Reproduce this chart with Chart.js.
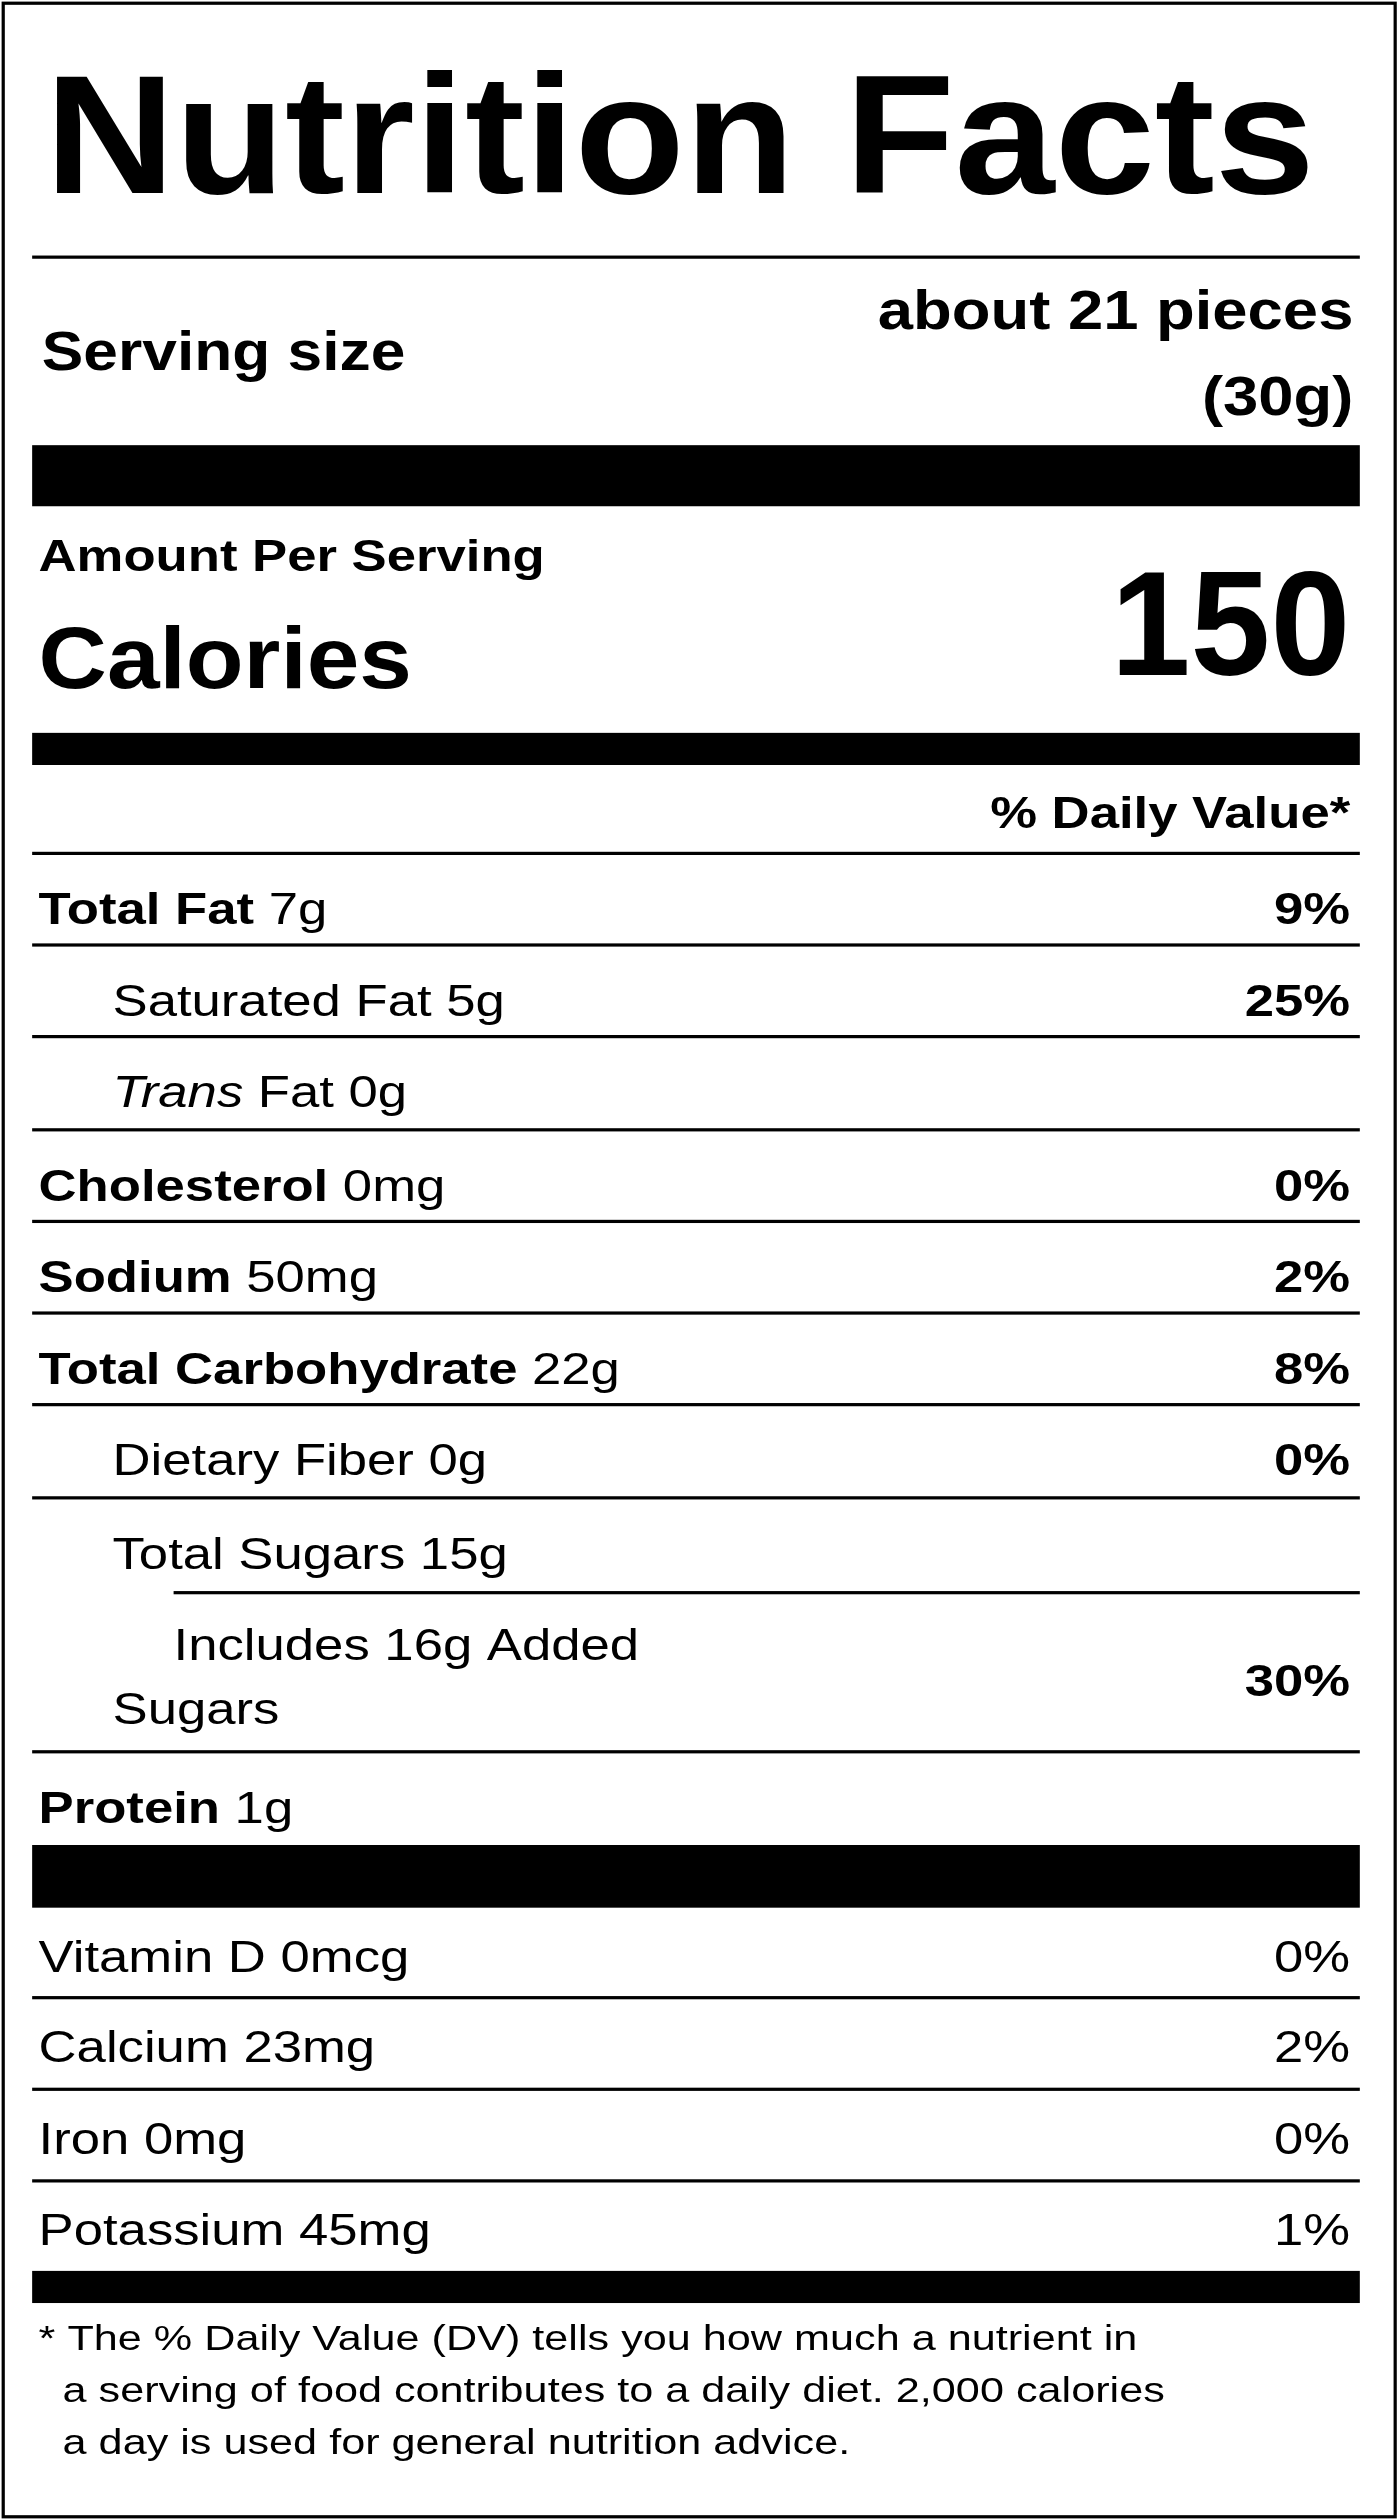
<!DOCTYPE html>
<html>
<head>
<meta charset="utf-8">
<script src="https://cdn.jsdelivr.net/npm/chart.js@4.4.1/dist/chart.umd.min.js"></script>
<style>
  html, body { margin: 0; padding: 0; background: #fff; }
  #wrap { width: 1400px; height: 2520px; position: relative; }
</style>
</head>
<body>
<div id="wrap"><canvas id="label"></canvas></div>
<script>
const servingSize = ['about 21 pieces', '(30g)'];
const calories = '150';

const nutrientNames = ['Total Fat', 'Saturated Fat', 'Trans Fat', 'Cholesterol', 'Sodium',
  'Total Carbohydrate', 'Dietary Fiber', 'Total Sugars', 'Includes 16g Added Sugars', 'Protein'];
const nutrientAmounts = ['7g', '5g', '0g', '0mg', '50mg', '22g', '0g', '15g', '', '1g'];
const nutrientDV = ['9%', '25%', '', '0%', '2%', '8%', '0%', '', '30%', ''];
const nutrientLevel = [0, 1, 1, 0, 0, 0, 1, 1, 2, 0];

const vitaminNames = ['Vitamin D', 'Calcium', 'Iron', 'Potassium'];
const vitaminAmounts = ['0mcg', '23mg', '0mg', '45mg'];
const vitaminDV = ['0%', '2%', '0%', '1%'];

const footnote = [
  '* The % Daily Value (DV) tells you how much a nutrient in',
  '  a serving of food contributes to a daily diet. 2,000 calories',
  '  a day is used for general nutrition advice.'
];

const FONT = '"Liberation Sans", Arial, sans-serif';

const labelPlugin = {
  id: 'nutritionLabel',
  afterDraw(chart) {
    const ctx = chart.ctx;
    const sx = chart.width / 871, sy = chart.height / 1568;
    ctx.save();
    ctx.scale(sx, sy);
    ctx.fillStyle = '#000';
    ctx.strokeStyle = '#000';
    ctx.textBaseline = 'alphabetic';
    const L = 20, R = 846;

    const rule = (y, w, x0) => { ctx.fillRect(x0 || L, y - w / 2, R - (x0 || L), w); };
    // text with horizontal stretch k to match the wide rendering of the original
    const text = (t, x, y, size, weight, align, style, k) => {
      k = k || 1.17;
      ctx.font = `${style || 'normal'} ${weight || 'normal'} ${size}px ${FONT}`;
      ctx.textAlign = align || 'left';
      ctx.save();
      ctx.translate(x, y);
      ctx.scale(k, 1);
      ctx.fillText(t, 0, 0);
      ctx.restore();
      return ctx.measureText(t).width * k;
    };

    // border
    ctx.lineWidth = 2;
    ctx.strokeRect(2, 2, 866, 1564);

    // title, fitted to width
    ctx.font = `bold 100px ${FONT}`;
    const tw = ctx.measureText('Nutrition Facts').width;
    ctx.save();
    ctx.translate(28, 120);
    ctx.scale(790 / tw, 1.05);
    ctx.textAlign = 'left';
    ctx.fillText('Nutrition Facts', 0, 0);
    ctx.restore();

    rule(160, 2);
    text('Serving size', 26, 230, 34, 'bold', 'left', null, 1.14);
    text(servingSize[0], 842, 205, 34, 'bold', 'right', null, 1.16);
    text(servingSize[1], 842, 258, 34, 'bold', 'right', null, 1.16);
    ctx.fillRect(L, 277, R - L, 38);

    text('Amount Per Serving', 24, 355, 28, 'bold', 'left', null, 1.17);
    text('Calories', 24, 428, 54, 'bold', 'left', null, 1.09);
    text(calories, 840, 420, 92, 'bold', 'right', null, 0.97);
    ctx.fillRect(L, 456, R - L, 20);

    text('% Daily Value*', 840, 515, 28, 'bold', 'right');
    rule(531, 2);

    const tops = [531, 588, 645, 703, 760, 817, 874, 932, 991, 1090, 1148];
    const indents = [24, 70, 108];
    nutrientNames.forEach((name, i) => {
      const top = tops[i], bottom = tops[i + 1];
      const x = indents[nutrientLevel[i]];
      const base = top + 44;
      if (i === 8) {
        text('Includes 16g Added', x, top + 42, 28);
        text('Sugars', 70, top + 82, 28);
        text(nutrientDV[i], 840, top + 64, 28, 'bold', 'right');
      } else {
        let cx = x;
        if (name === 'Trans Fat') {
          cx += text('Trans', cx, base, 28, 'normal', 'left', 'italic');
          cx += text(' Fat ' + nutrientAmounts[i], cx, base, 28);
        } else {
          const w = nutrientLevel[i] === 0 ? 'bold' : 'normal';
          cx += text(name + ' ', cx, base, 28, w);
          text(nutrientAmounts[i], cx, base, 28);
        }
        if (nutrientDV[i]) text(nutrientDV[i], 840, base, 28, 'bold', 'right');
      }
      if (i < nutrientNames.length - 1) rule(bottom, 2, i === 7 ? 108 : L);
    });
    ctx.fillRect(L, 1148, R - L, 39);

    const vtops = [1187, 1243, 1300, 1357];
    vitaminNames.forEach((name, i) => {
      const base = vtops[i] + 40;
      text(name + ' ' + vitaminAmounts[i], 24, base, 28);
      text(vitaminDV[i], 840, base, 28, 'normal', 'right');
      if (i > 0) rule(vtops[i], 2);
    });
    ctx.fillRect(L, 1413, R - L, 20);

    footnote.forEach((line, i) => {
      text(line, 24, 1462 + i * 32.5, 21.5, 'normal', 'left', null, 1.25);
    });
    ctx.restore();
  }
};

new Chart(document.getElementById('label'), {
  type: 'bar',
  data: { labels: [], datasets: [] },
  options: {
    responsive: true,
    maintainAspectRatio: false,
    animation: false,
    events: [],
    plugins: { legend: { display: false }, tooltip: { enabled: false } },
    scales: { x: { display: false }, y: { display: false } }
  },
  plugins: [labelPlugin]
});
</script>
</body>
</html>
